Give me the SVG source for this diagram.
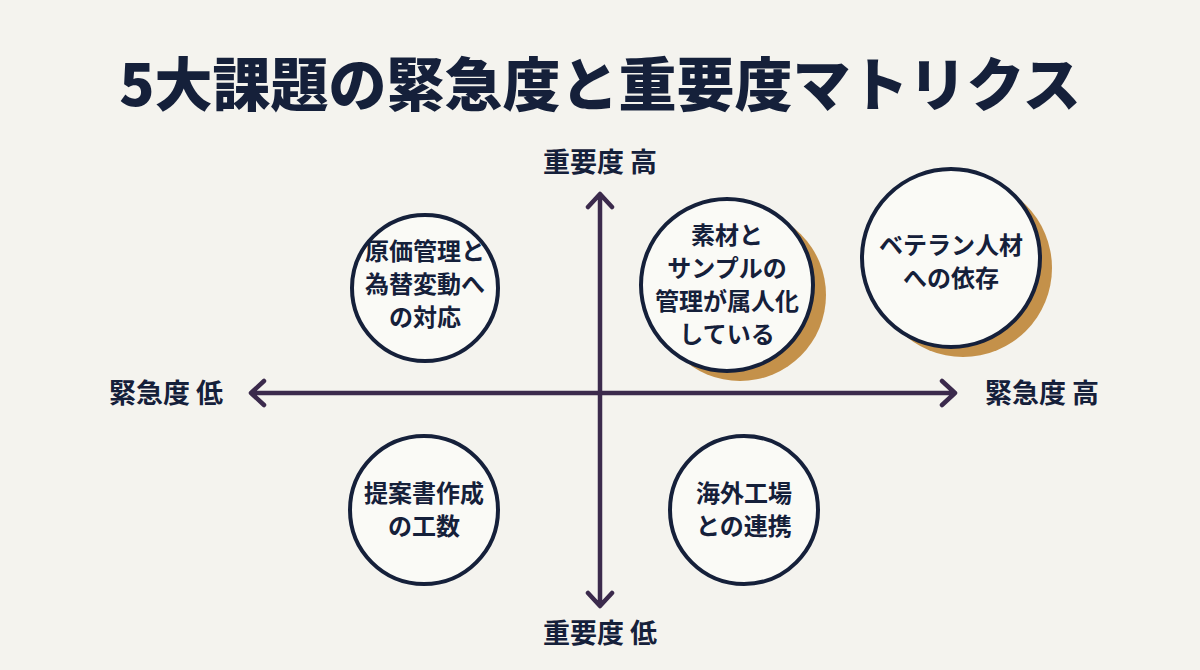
<svg xmlns="http://www.w3.org/2000/svg" width="1200" height="670" viewBox="0 0 1200 670">
<style>
text{font-family:"Noto Sans CJK JP","Noto Sans",sans-serif;font-weight:700;fill:#15203a;text-anchor:middle}
.t{font-size:58px;font-weight:900}
.ax{font-size:27px}
.n{font-size:24px}
.c{fill:#fafaf6;stroke:#15203a;stroke-width:4}
.s{fill:#c4914a}
.l{stroke:#3b2a4c;stroke-width:4.5;fill:none;stroke-linecap:round;stroke-linejoin:round}
</style>
<rect width="1200" height="670" fill="#f4f3ee"/>
<text class="t" x="600" y="106">5大課題の緊急度と重要度マトリクス</text>
<g id="connectors">
<path class="l" d="M252 393H954M942 381L955 393L942 405M264 381L251 393L264 405"/>
<path class="l" d="M600 195V605M588 207L600 194L612 207M588 593L600 606L612 593"/>
</g>
<g id="labels">
<text class="ax" x="600" y="172">重要度 高</text>
<text class="ax" x="600" y="643">重要度 低</text>
<text class="ax" x="166" y="403">緊急度 低</text>
<text class="ax" x="1042" y="403">緊急度 高</text>
</g>
<g id="n1"><circle class="c" cx="425" cy="288" r="73"/>
<text class="n" x="425" y="260">原価管理と</text><text class="n" x="425" y="293">為替変動へ</text><text class="n" x="425" y="326">の対応</text></g>
<g id="n2"><circle class="s" cx="740" cy="295" r="86"/><circle class="c" cx="727" cy="285" r="86"/>
<text class="n" x="727" y="244">素材と</text><text class="n" x="727" y="277">サンプルの</text><text class="n" x="727" y="310">管理が属人化</text><text class="n" x="727" y="343">している</text></g>
<g id="n3"><circle class="s" cx="963" cy="268" r="89"/><circle class="c" cx="951" cy="258" r="89"/>
<text class="n" x="951" y="254">ベテラン人材</text><text class="n" x="951" y="287">への依存</text></g>
<g id="n4"><circle class="c" cx="424" cy="510" r="74"/>
<text class="n" x="424" y="502">提案書作成</text><text class="n" x="424" y="535">の工数</text></g>
<g id="n5"><circle class="c" cx="744" cy="510" r="74"/>
<text class="n" x="744" y="502">海外工場</text><text class="n" x="744" y="535">との連携</text></g>
</svg>
